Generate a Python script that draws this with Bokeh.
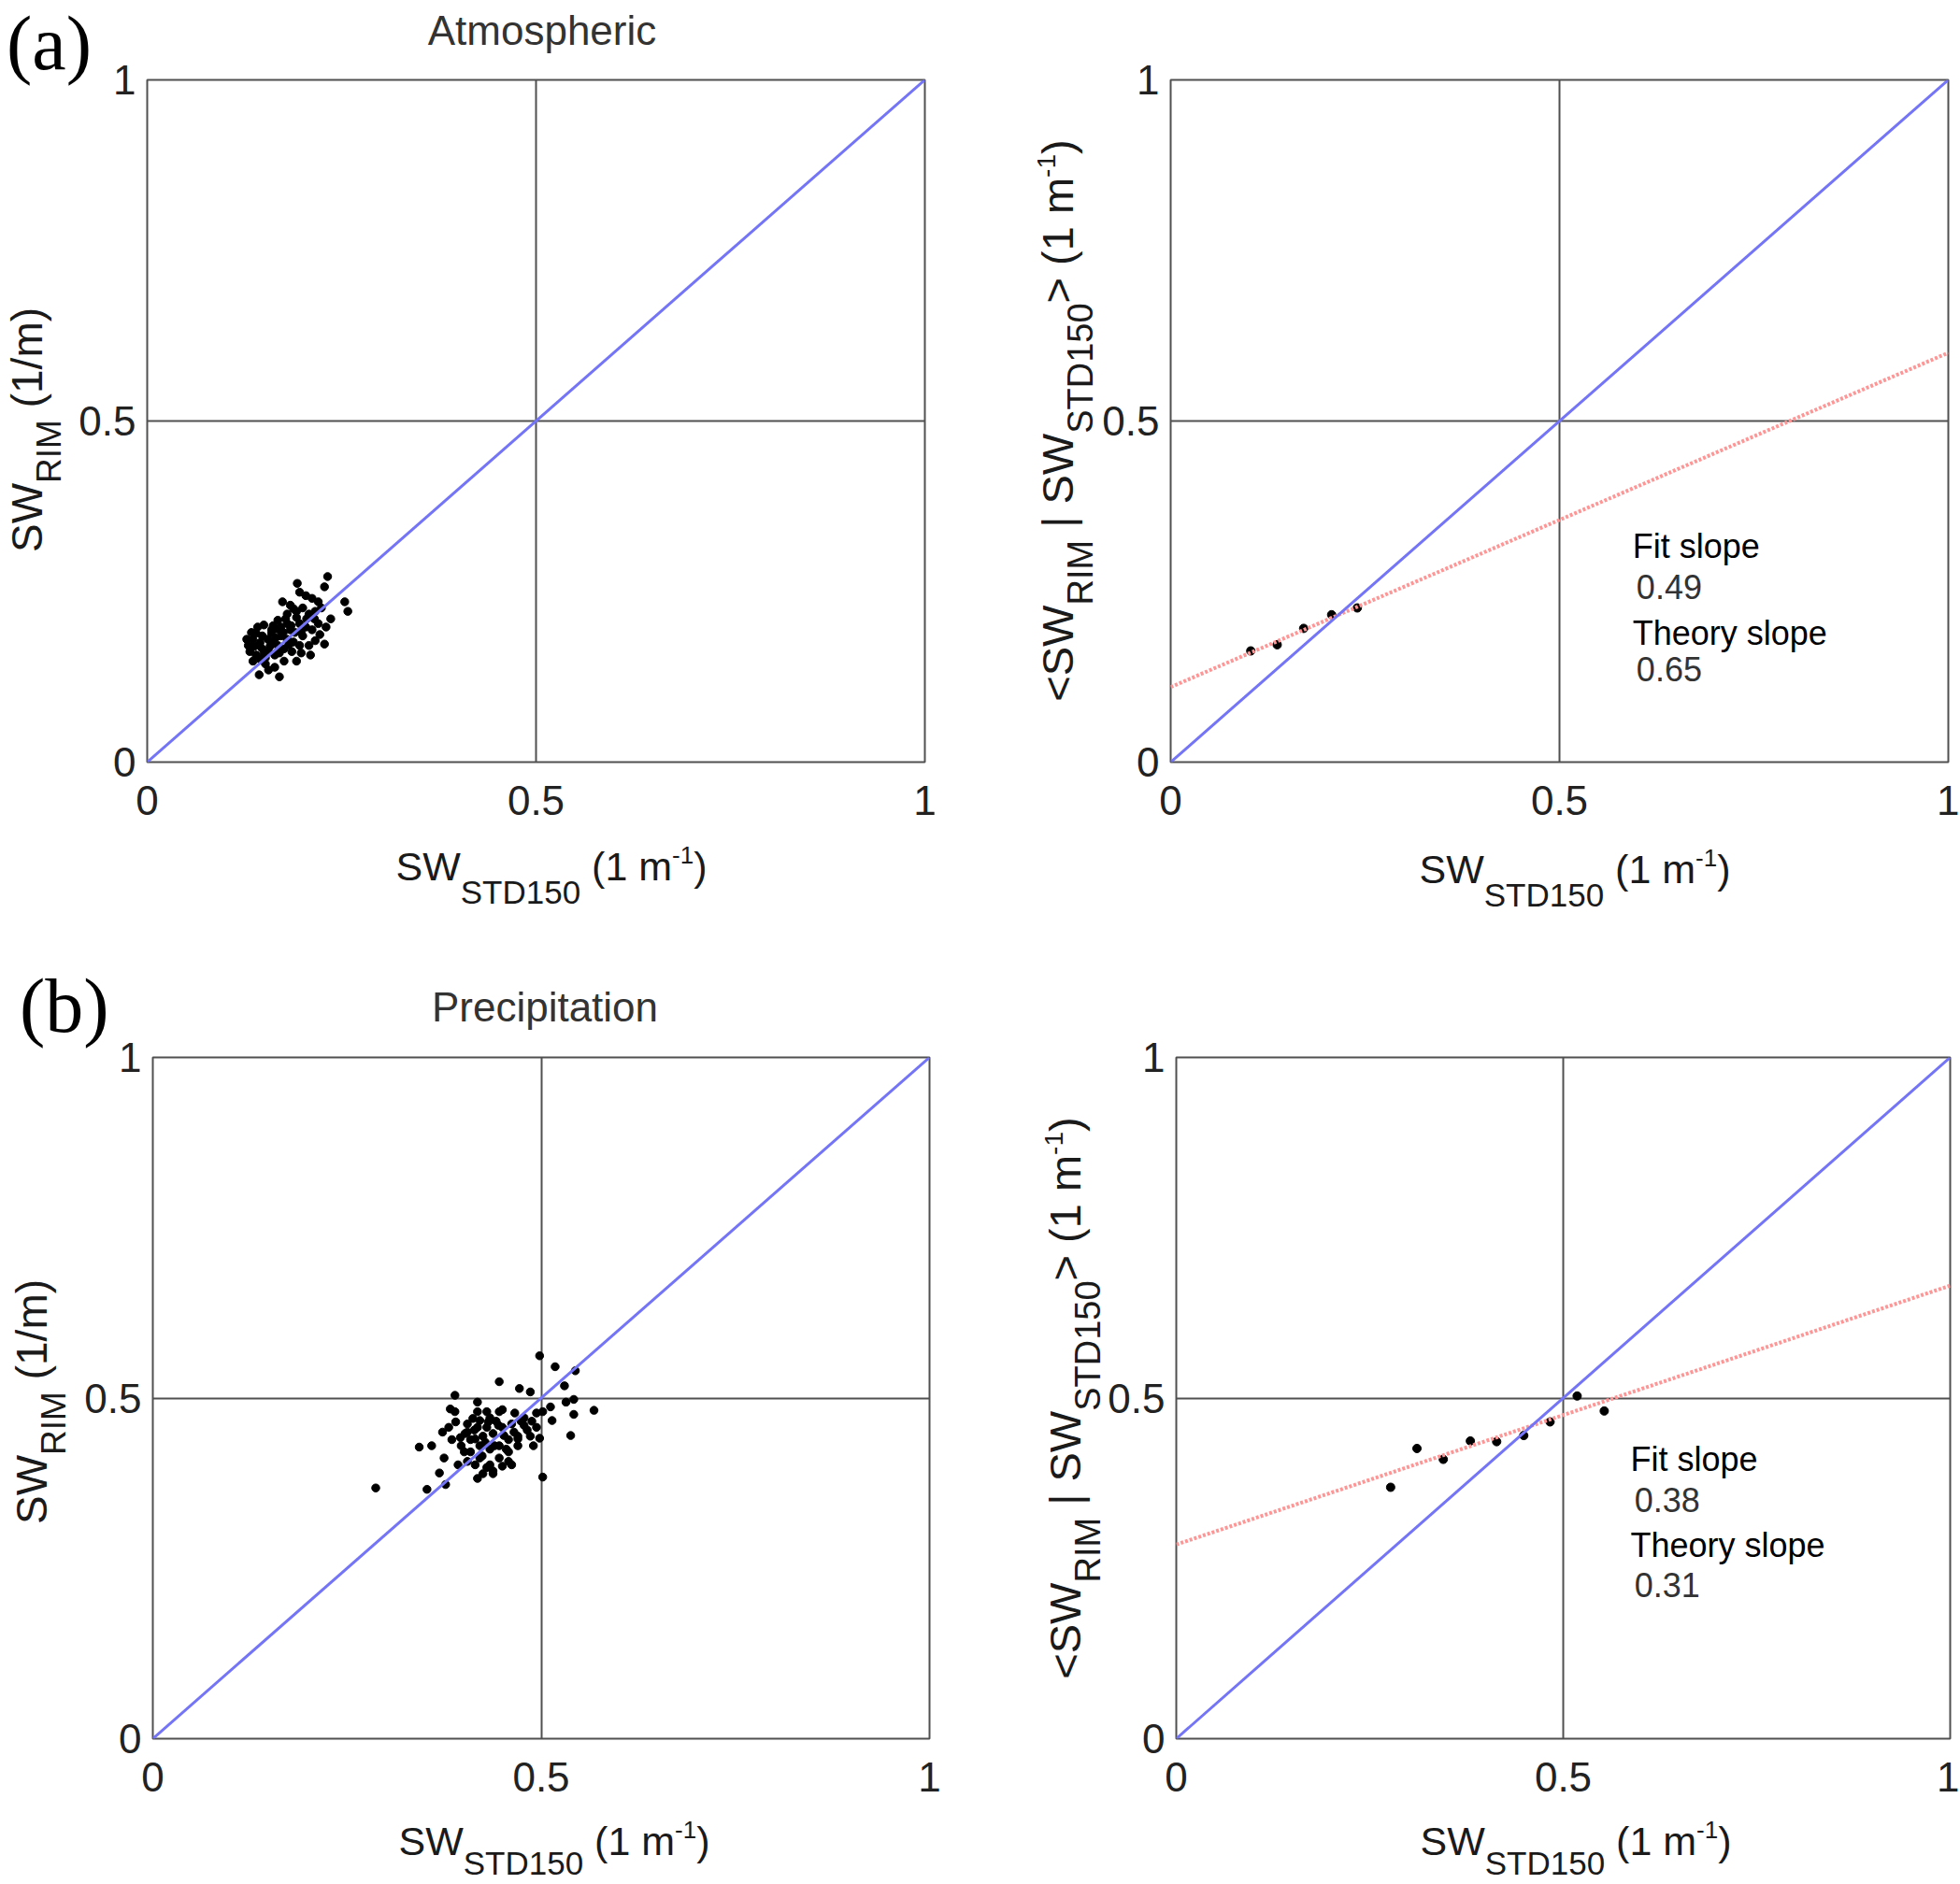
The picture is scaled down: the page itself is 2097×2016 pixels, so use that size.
from bokeh.plotting import figure
from bokeh.layouts import column, row
from bokeh.models import Range1d, FixedTicker, Label, Div
from bokeh.embed import file_html
from bokeh.resources import INLINE

# axis ticks shared by all four panels
tick_values = [0.0, 0.5, 1.0]
tick_labels = ["0", "0.5", "1"]
one_to_one = [0.0, 1.0]

# (a) atmospheric: single scans, then binned means
atm_x = [0.232, 0.228, 0.193, 0.196, 0.204, 0.212, 0.220, 0.174, 0.184, 0.254,
         0.258, 0.236, 0.230, 0.222, 0.228, 0.216, 0.198, 0.208, 0.170, 0.144,
         0.164, 0.152, 0.136, 0.130, 0.128, 0.140, 0.150, 0.160, 0.168, 0.180,
         0.192, 0.200, 0.208, 0.216, 0.224, 0.196, 0.184, 0.172, 0.160, 0.148,
         0.140, 0.152, 0.176, 0.188, 0.200, 0.212, 0.220, 0.204, 0.180, 0.168,
         0.156, 0.144, 0.136, 0.132, 0.148, 0.160, 0.172, 0.180, 0.192, 0.164,
         0.186, 0.196, 0.210, 0.192, 0.176, 0.156, 0.142, 0.145, 0.155, 0.165,
         0.175, 0.185, 0.190, 0.170, 0.158, 0.150, 0.162, 0.178, 0.205, 0.215,
         0.198, 0.138, 0.146, 0.134, 0.188, 0.168, 0.182]
atm_y = [0.272, 0.257, 0.262, 0.249, 0.244, 0.240, 0.235, 0.235, 0.230, 0.235,
         0.221, 0.210, 0.198, 0.187, 0.173, 0.178, 0.160, 0.171, 0.125, 0.128,
         0.139, 0.153, 0.148, 0.171, 0.180, 0.189, 0.201, 0.194, 0.208, 0.217,
         0.221, 0.226, 0.217, 0.221, 0.226, 0.203, 0.194, 0.185, 0.176, 0.166,
         0.157, 0.144, 0.166, 0.176, 0.185, 0.194, 0.203, 0.198, 0.180, 0.171,
         0.162, 0.171, 0.180, 0.162, 0.185, 0.189, 0.198, 0.203, 0.212, 0.157,
         0.162, 0.171, 0.157, 0.148, 0.148, 0.135, 0.198, 0.175, 0.180, 0.182,
         0.190, 0.200, 0.190, 0.160, 0.170, 0.158, 0.200, 0.210, 0.210, 0.210,
         0.190, 0.170, 0.150, 0.190, 0.225, 0.195, 0.172]
atm_bin_x = [0.103, 0.137, 0.171, 0.207, 0.240]
atm_bin_y = [0.163, 0.172, 0.196, 0.216, 0.226]
atm_fit_intercept = 0.11
atm_fit_slope = 0.49
atm_theory_slope = 0.65

# (b) precipitation
pre_x = [0.498, 0.518, 0.544, 0.446, 0.472, 0.486, 0.530, 0.389, 0.532, 0.542,
         0.568, 0.542, 0.514, 0.538, 0.512, 0.502, 0.494, 0.383, 0.389, 0.418,
         0.343, 0.359, 0.375, 0.369, 0.287, 0.353, 0.377, 0.418, 0.502, 0.393,
         0.438, 0.458, 0.490, 0.498, 0.482, 0.478, 0.466, 0.450, 0.434, 0.421,
         0.414, 0.402, 0.381, 0.373, 0.385, 0.397, 0.409, 0.421, 0.434, 0.446,
         0.458, 0.470, 0.470, 0.458, 0.446, 0.434, 0.421, 0.409, 0.425, 0.438,
         0.450, 0.462, 0.474, 0.442, 0.430, 0.418, 0.405, 0.446, 0.430, 0.418,
         0.401, 0.430, 0.450, 0.462, 0.438, 0.425, 0.415, 0.405, 0.486, 0.494,
         0.488, 0.405, 0.415, 0.428, 0.440, 0.452, 0.465, 0.478, 0.445, 0.432,
         0.412, 0.396, 0.424, 0.455, 0.470, 0.390]
pre_y = [0.562, 0.546, 0.540, 0.524, 0.514, 0.509, 0.518, 0.504, 0.494, 0.498,
         0.482, 0.476, 0.467, 0.445, 0.487, 0.480, 0.478, 0.484, 0.480, 0.494,
         0.428, 0.430, 0.412, 0.390, 0.368, 0.366, 0.373, 0.382, 0.384, 0.402,
         0.393, 0.407, 0.430, 0.441, 0.453, 0.471, 0.478, 0.483, 0.471, 0.467,
         0.453, 0.448, 0.457, 0.450, 0.439, 0.430, 0.421, 0.412, 0.402, 0.412,
         0.421, 0.430, 0.444, 0.439, 0.430, 0.425, 0.430, 0.439, 0.444, 0.448,
         0.457, 0.462, 0.466, 0.466, 0.457, 0.457, 0.462, 0.480, 0.480, 0.480,
         0.421, 0.398, 0.400, 0.402, 0.389, 0.389, 0.402, 0.407, 0.444, 0.457,
         0.466, 0.450, 0.440, 0.435, 0.430, 0.445, 0.450, 0.460, 0.460, 0.465,
         0.470, 0.442, 0.415, 0.425, 0.440, 0.465]
pre_bin_x = [0.277, 0.311, 0.345, 0.380, 0.414, 0.449, 0.483, 0.518, 0.553]
pre_bin_y = [0.369, 0.426, 0.410, 0.437, 0.436, 0.445, 0.465, 0.503, 0.481]
pre_fit_intercept = 0.285
pre_fit_slope = 0.38
pre_theory_slope = 0.31

FONT = "Liberation Sans"
SERIF = "Liberation Serif"
INK = "#1a1a1a"
BOX = "#505050"
BLUE = "#7474f6"
RED = "#ff9595"


def sub(text, size, shift):
    return ('<span style="font-size:%dpx;position:relative;top:%dpx">%s</span>'
            % (size, shift, text))


def xlab_html(shift):
    return "SW" + sub("STD150", 35, shift) + " (1 m" + sub("-1", 26, -18) + ")"


YLAB_L_HTML = "SW" + sub("RIM", 37, 20) + " (1/m)"
YLAB_R_HTML = ("&lt;SW" + sub("RIM", 38, 21) + " | SW" + sub("STD150", 38, 21)
               + "&gt; (1 m" + sub("-1", 28, -19) + ")")

# label boxes use line-height 1, so the baseline sits 0.8465 em below the box top
BASE = 0.8465


def hlabel(x, baseline, html, size, center=True, color=INK, font=FONT, base=BASE):
    top = baseline - base * size
    tr = "translateX(-50%)" if center else "none"
    return ('<div style="position:absolute;left:%.1fpx;top:%.1fpx;transform:%s;'
            'white-space:nowrap;line-height:1;font-family:\'%s\';font-size:%dpx;'
            'color:%s">%s</div>' % (x, top, tr, font, size, color, html))


def vlabel(base_x, cy, html, size, color=INK):
    cx = base_x - (BASE - 0.5) * size
    return ('<div style="position:absolute;left:%.1fpx;top:%.1fpx;'
            'transform:translate(-50%%,-50%%) rotate(-90deg);white-space:nowrap;'
            'line-height:1;font-family:\'%s\';font-size:%dpx;color:%s">%s</div>'
            % (cx, cy, FONT, size, color, html))


def make_panel(width, height, left, right, top, bottom):
    p = figure(width=width, height=height, x_range=Range1d(0, 1), y_range=Range1d(0, 1),
               output_backend="svg", toolbar_location=None, tools="",
               min_border_left=left, min_border_right=right,
               min_border_top=top, min_border_bottom=bottom)
    p.background_fill_color = "white"
    p.border_fill_color = "white"
    p.outline_line_color = BOX
    p.outline_line_width = 2
    for ax in (p.xaxis[0], p.yaxis[0]):
        ax.ticker = FixedTicker(ticks=tick_values)
        ax.major_label_overrides = dict(zip(tick_values, tick_labels))
        ax.axis_line_color = None
        ax.major_tick_line_color = None
        ax.minor_tick_line_color = None
        ax.major_tick_in = 0
        ax.major_tick_out = 0
        ax.major_label_text_font = FONT
        ax.major_label_text_font_size = "44px"
        ax.major_label_text_color = "#222222"
    p.xaxis.major_label_standoff = 25
    p.yaxis.major_label_standoff = 12
    for g in (p.xgrid[0], p.ygrid[0]):
        g.ticker = FixedTicker(ticks=tick_values)
        g.grid_line_color = BOX
        g.grid_line_width = 2
    return p


def note(p, x, y, text, color):
    p.add_layout(Label(x=x, y=y, text=text, text_font=FONT, text_font_size="36px",
                       text_color=color, text_baseline="alphabetic"))


def scatter_panel(p, xs, ys):
    p.scatter(xs, ys, size=8.5, color="black")
    p.line(one_to_one, one_to_one, line_color=BLUE, line_width=3)


def binned_panel(p, bx, by, a, b, theory, tx, ty):
    fit_y = [a + b * x for x in one_to_one]
    p.scatter(bx, by, size=9, color="black")
    p.line(one_to_one, fit_y, line_color=RED, line_width=4, line_dash="3 2")
    p.line(one_to_one, one_to_one, line_color=BLUE, line_width=3)
    note(p, tx, ty[0], "Fit slope", "black")
    note(p, tx + 0.005, ty[1], "%.2f" % b, "#333333")
    note(p, tx, ty[2], "Theory slope", "black")
    note(p, tx + 0.005, ty[3], "%.2f" % theory, "#333333")


# top row: frames at x 157-989 / 1252-2084, y 85-815
p1 = make_panel(1060, 1038, 157, 71, 85, 223)
scatter_panel(p1, atm_x, atm_y)
p2 = make_panel(1036, 1038, 192, 12, 85, 223)
binned_panel(p2, atm_bin_x, atm_bin_y, atm_fit_intercept, atm_fit_slope,
             atm_theory_slope, 0.594, [0.316, 0.257, 0.189, 0.136])

# bottom row: frames at x 163-994 / 1258-2086, y 1131-1860
p3 = make_panel(1060, 976, 163, 66, 93, 154)
scatter_panel(p3, pre_x, pre_y)
p4 = make_panel(1036, 976, 198, 10, 93, 154)
binned_panel(p4, pre_bin_x, pre_bin_y, pre_fit_intercept, pre_fit_slope,
             pre_theory_slope, 0.587, [0.410, 0.350, 0.284, 0.226])

# titles, panel letters and axis titles (with sub/superscripts) as real HTML text
parts = [
    hlabel(2, 74, "(a)", 82, center=False, color="black", font=SERIF, base=0.891),
    hlabel(575, 43, "Atmospheric", 44, color="#333333"),
    hlabel(585, 937, xlab_html(25), 43),
    vlabel(40, 455, YLAB_L_HTML, 46),
    hlabel(1680, 940, xlab_html(25), 43),
    vlabel(1142, 445, YLAB_R_HTML, 47),
    hlabel(16, 1100, "(b)", 82, center=False, color="black", font=SERIF),
    hlabel(578, 1088, "Precipitation", 44, color="#333333"),
    hlabel(588, 1980, xlab_html(21), 43),
    vlabel(45, 1495, YLAB_L_HTML, 46),
    hlabel(1681, 1980, xlab_html(21), 43),
    vlabel(1150, 1491, YLAB_R_HTML, 47),
]
overlay = Div(text='<div style="position:relative;width:2096px;height:2014px">'
              + "".join(parts) + "</div>",
              width=2096, height=2014,
              styles={"position": "absolute", "z-index": "10", "pointer-events": "none"})

layout = column(overlay, row(p1, p2), row(p3, p4))

open("out.html", "w").write(file_html(layout, INLINE))
